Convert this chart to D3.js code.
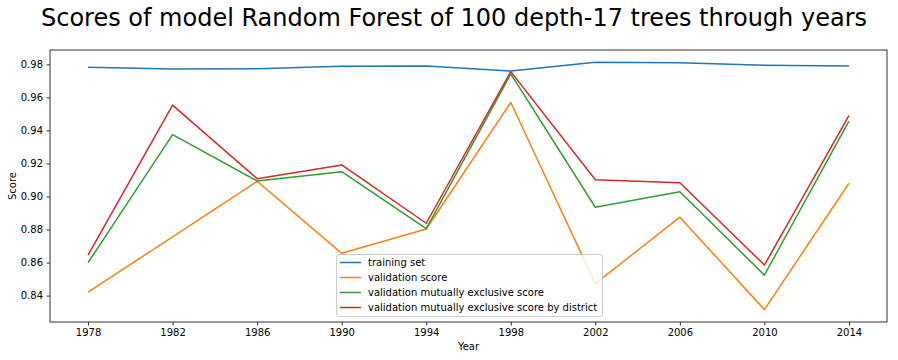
<!DOCTYPE html>
<html><head><meta charset="utf-8">
<script src="https://cdn.jsdelivr.net/npm/d3@7/dist/d3.min.js"></script>
<style>body{margin:0;background:#fff}svg{display:block;font-family:"DejaVu Sans",sans-serif}</style>
</head><body><svg id="c" width="898" height="360"></svg>
<script>
const years = [1978, 1982, 1986, 1990, 1994, 1998, 2002, 2006, 2010, 2014];
const trainingSet = [0.9782, 0.9772, 0.9773, 0.9788, 0.9790, 0.9759, 0.9812, 0.9810, 0.9795, 0.9790];
const validationScore = [0.8421, 0.8756, 0.9092, 0.8656, 0.8803, 0.9569, 0.8472, 0.8875, 0.8315, 0.9080];
const validationExclusive = [0.8599, 0.9375, 0.9094, 0.9150, 0.8805, 0.9742, 0.8935, 0.9029, 0.8524, 0.9456];
const validationDistrict = [0.8645, 0.9553, 0.9108, 0.9191, 0.8838, 0.9756, 0.9101, 0.9083, 0.8585, 0.9490];
const seriesNames = ["training set", "validation score", "validation mutually exclusive score", "validation mutually exclusive score by district"];
const colors = ["#1f77b4", "#ff7f0e", "#2ca02c", "#d62728"];
const yTicks = [0.84, 0.86, 0.88, 0.90, 0.92, 0.94, 0.96, 0.98];

const series = [trainingSet, validationScore, validationExclusive, validationDistrict];
const svg = d3.select("#c");
const L = 50, R = 887, T = 50, B = 322;

const allV = series.flat();
const ymin = d3.min(allV), ymax = d3.max(allV), yr = ymax - ymin;
const x = d3.scaleLinear().domain([1978 - 1.8, 2014 + 1.8]).range([L, R]);
const y = d3.scaleLinear().domain([ymin - 0.05 * yr, ymax + 0.05 * yr]).range([B, T]);

svg.append("text").attr("x", 454).attr("y", 26).attr("text-anchor", "middle")
  .attr("font-size", 24).attr("fill", "#000").text("Scores of model Random Forest of 100 depth-17 trees through years");

const line = d3.line().x((d, i) => x(years[i])).y(d => y(d));
series.forEach((s, k) => {
  svg.append("path").datum(s).attr("d", line).attr("fill", "none")
    .attr("stroke", colors[k]).attr("stroke-width", 1.5).attr("stroke-linejoin", "round");
});

const xAxis = svg.append("g").attr("transform", `translate(0,${B})`)
  .call(d3.axisBottom(x).tickValues(years).tickFormat(d3.format("d")).tickSize(3.5).tickPadding(3.5));
const yAxis = svg.append("g").attr("transform", `translate(${L},0)`)
  .call(d3.axisLeft(y).tickValues(yTicks).tickFormat(d3.format(".2f")).tickSize(3.5).tickPadding(3.5));
[xAxis, yAxis].forEach(g => {
  g.select(".domain").remove();
  g.selectAll("text").attr("font-size", 10).attr("fill", "#000").attr("font-family", "DejaVu Sans");
  g.selectAll("line").attr("stroke", "#000").attr("stroke-width", 0.8);
});

svg.append("rect").attr("x", L).attr("y", T).attr("width", R - L).attr("height", B - T)
  .attr("fill", "none").attr("stroke", "#000").attr("stroke-width", 0.8);

svg.append("text").attr("x", (L + R) / 2).attr("y", 350).attr("text-anchor", "middle")
  .attr("font-size", 10).text("Year");
svg.append("text").attr("transform", `translate(16,${(T + B) / 2}) rotate(-90)`)
  .attr("text-anchor", "middle").attr("font-size", 10).text("Score");

// legend
const lg = svg.append("g");
lg.append("rect").attr("x", 336.5).attr("y", 254.5).attr("width", 266).attr("height", 62).attr("rx", 2.5)
  .attr("fill", "#fff").attr("fill-opacity", 0.8).attr("stroke", "#cccccc").attr("stroke-width", 1);
seriesNames.forEach((n, k) => {
  const yy = 262.5 + k * 15;
  lg.append("line").attr("x1", 340).attr("x2", 361).attr("y1", yy).attr("y2", yy)
    .attr("stroke", colors[k]).attr("stroke-width", 1.5);
  lg.append("text").attr("x", 368).attr("y", yy + 3.5).attr("font-size", 10).text(n);
});
</script></body></html>
